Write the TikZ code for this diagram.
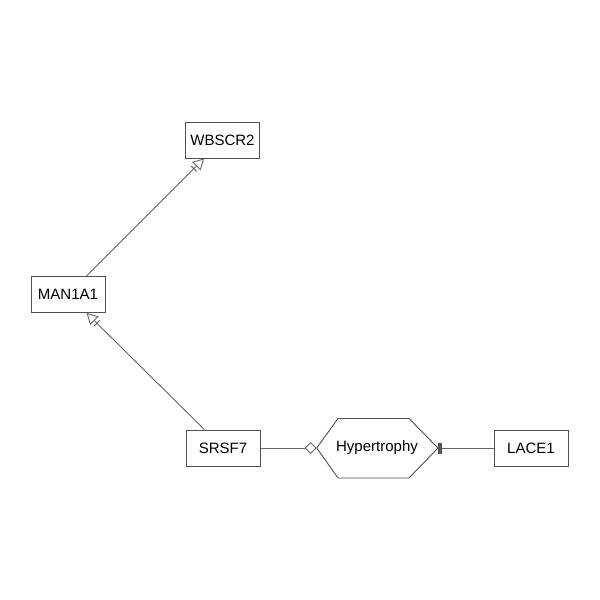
\documentclass[tikz,border=0pt]{standalone}
\usepackage{fontspec}
\setmainfont{Liberation Sans}
\usetikzlibrary{arrows.meta}
\definecolor{edgec}{HTML}{666666}
\definecolor{boxc}{HTML}{505050}
\definecolor{barc}{HTML}{555555}
\tikzset{
  x=1pt, y=-1pt,
  gene/.style={draw=boxc, line width=0.9pt, minimum width=74pt, minimum height=36pt, inner sep=0pt, font=\fontsize{15}{18}\selectfont},
  conn/.style={draw=edgec, line width=0.9pt},
  necstim/.style={-{Bar[width=8pt,line width=1pt,sep=3pt] Triangle[open,length=11pt,width=12pt,fill=white]}},
  modul/.style={-{Turned Square[open,length=12pt,width=12pt,fill=white]}},
  inhib/.style={-{Rectangle[length=4pt,width=11pt,fill=barc,color=barc]}}
}
\begin{document}
\begin{tikzpicture}
\useasboundingbox (0,0) rectangle (600,600);
\fill[white] (0,0) rectangle (600,600);
\node[gene] (wbscr2) at (222.5,140) {WBSCR2};
\node[gene] (man1a1) at (68,294.5) {MAN1A1};
\node[gene] (srsf7) at (223,448) {SRSF7};
\node[gene] (lace1) at (531,448) {LACE1};
\draw[draw=boxc, line width=0.9pt] (316.7,448) -- (338,418.5) -- (409,418.5) -- (438,448) -- (409,478) -- (338,478) -- cycle;
\node[font=\fontsize{15}{18}\selectfont, inner sep=0pt] (hyp) at (377,448) {Hypertrophy};
\coordinate (hypW) at (316.7,448);
\coordinate (hypE) at (438,448);
\draw[conn, necstim] (man1a1) -- (wbscr2);
\draw[conn, necstim] (srsf7) -- (man1a1);
\draw[conn, modul] (srsf7.east) -- (hypW);
\draw[conn, inhib] (lace1.west) -- (hypE);
\end{tikzpicture}
\end{document}
